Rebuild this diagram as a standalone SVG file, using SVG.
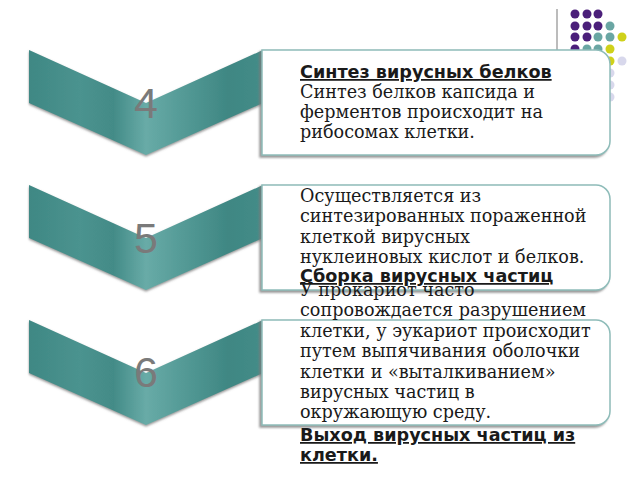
<svg xmlns="http://www.w3.org/2000/svg" width="640" height="480" viewBox="0 0 640 480">
<defs>
<linearGradient id="chev" x1="29" y1="0" x2="263" y2="0" gradientUnits="userSpaceOnUse">
<stop offset="0" stop-color="#3f8884"/>
<stop offset="0.22" stop-color="#4b938f"/>
<stop offset="0.36" stop-color="#438b87"/>
<stop offset="0.5" stop-color="#68aba7"/>
<stop offset="0.65" stop-color="#559b97"/>
<stop offset="0.85" stop-color="#3f8783"/>
<stop offset="1" stop-color="#448c88"/>
</linearGradient>
<filter id="sh" x="-10%" y="-10%" width="120%" height="130%">
<feDropShadow dx="-2" dy="2" stdDeviation="1" flood-color="#7a7a7a" flood-opacity="0.8"/>
</filter>
<filter id="csh" x="-10%" y="-10%" width="120%" height="130%">
<feDropShadow dx="0" dy="1.5" stdDeviation="0.8" flood-color="#666" flood-opacity="0.7"/>
</filter>
</defs>
<style>
.chev{fill:url(#chev);filter:url(#csh)}
.num{font-family:"Liberation Sans",Arial,sans-serif;font-size:43px;fill:#7a7a7a;text-anchor:middle}
.box{fill:#ffffff;stroke:#8ebcb9;stroke-width:1.5;filter:url(#sh)}
.body{font-family:"DejaVu Serif",serif;font-size:17.6px;fill:#1a1a1a}
.title{font-family:"DejaVu Sans",sans-serif;font-size:17.6px;font-weight:bold;fill:#1a1a1a;text-decoration:underline}
.dp{fill:#4b1f7a}.dt{fill:#6aa6a3}.dy{fill:#cfd11a}.dl{fill:#d8d8ec}
</style>
<rect width="640" height="480" fill="#ffffff"/>
<g id="decor">
<line x1="557" y1="9" x2="557" y2="60" stroke="#a6a6a6" stroke-width="1.5"/>
<circle class="dp" cx="575" cy="14" r="4.5"/><circle class="dp" cx="587" cy="14" r="4.5"/><circle class="dp" cx="598" cy="14" r="4.5"/>
<circle class="dp" cx="575" cy="26" r="4.5"/><circle class="dp" cx="587" cy="26" r="4.5"/><circle class="dp" cx="598" cy="26" r="4.5"/><circle class="dt" cx="610" cy="26" r="4.5"/>
<circle class="dp" cx="575" cy="37" r="4.5"/><circle class="dp" cx="587" cy="37" r="4.5"/><circle class="dt" cx="598" cy="37" r="4.5"/><circle class="dt" cx="610" cy="37" r="4.5"/><circle class="dy" cx="622" cy="37" r="4.5"/>
<circle class="dp" cx="575" cy="49" r="4.5"/><circle class="dt" cx="587" cy="49" r="4.5"/><circle class="dt" cx="598" cy="49" r="4.5"/><circle class="dy" cx="610" cy="49" r="4.5"/>
<circle class="dy" cx="610" cy="61" r="4.5"/><circle class="dl" cx="622" cy="61" r="4.5"/>
<circle class="dl" cx="610" cy="73" r="4.5"/><circle class="dl" cx="610" cy="85" r="4.5"/><circle class="dl" cx="610" cy="97" r="4.5"/>
</g>
<g id="step4">
<polygon class="chev" points="29,50 146,103 263,50 263,103 146,155 29,103"/>
<text class="num" x="146" y="118">4</text>
<path class="box" d="M262,50 H596 A14,14 0 0 1 610,64 V141 A14,14 0 0 1 596,155 H262 Z"/>
<text x="300" y="78" class="title">Синтез вирусных белков</text>
<text class="body"><tspan x="300" y="98">Синтез белков капсида и</tspan><tspan x="300" y="118">ферментов происходит на</tspan><tspan x="300" y="138">рибосомах клетки.</tspan></text>
</g>
<g id="step5">
<polygon class="chev" points="29,185 146,238 263,185 263,238 146,290 29,238"/>
<text class="num" x="146" y="253">5</text>
<path class="box" d="M262,185 H596 A14,14 0 0 1 610,199 V276 A14,14 0 0 1 596,290 H262 Z"/>
<text class="body"><tspan x="300" y="202">Осуществляется из</tspan><tspan x="300" y="222.4">синтезированных пораженной</tspan><tspan x="300" y="242.8">клеткой вирусных</tspan><tspan x="300" y="263.2">нуклеиновых кислот и белков.</tspan></text>
<text x="300" y="282" class="title">Сборка вирусных частиц</text>
</g>
<g id="step6">
<polygon class="chev" points="29,320 146,373 263,320 263,373 146,425 29,373"/>
<text class="num" x="146" y="387">6</text>
<path class="box" d="M262,320 H596 A14,14 0 0 1 610,334 V411 A14,14 0 0 1 596,425 H262 Z"/>
<text class="body"><tspan x="300" y="296">У прокариот часто</tspan><tspan x="300" y="316.4">сопровождается разрушением</tspan><tspan x="300" y="336.8">клетки, у эукариот происходит</tspan><tspan x="300" y="357.2">путем выпячивания оболочки</tspan><tspan x="300" y="377.6">клетки и «выталкиванием»</tspan><tspan x="300" y="398">вирусных частиц в</tspan><tspan x="300" y="418.4">окружающую среду.</tspan></text>
<text class="title"><tspan x="300" y="441">Выход вирусных частиц из</tspan><tspan x="300" y="461">клетки.</tspan></text>
</g>
<g id="connectors"/>
</svg>
